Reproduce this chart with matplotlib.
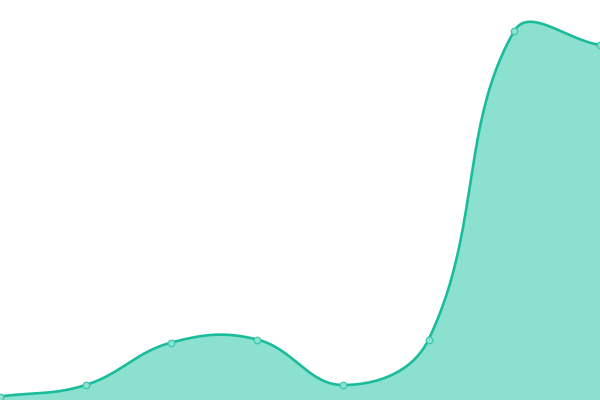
import numpy as np
import matplotlib
matplotlib.use("Agg")
import matplotlib.pyplot as plt

categories = ["A", "B", "C", "D", "E", "F", "G", "H"]
values = [3.5, 15, 57.5, 60.5, 15, 60.5, 369, 355]

LINE = "#1abc9c"
FILL = "#8be0cf"
TENSION = 0.4

fig = plt.figure(figsize=(6, 4), dpi=100)
ax = fig.add_axes([0, 0, 1, 1])
ax.set_xlim(0, len(categories) - 1)
ax.set_ylim(0, 400)
ax.axis("off")

xs = np.arange(len(categories), dtype=float)
pts = ax.transData.transform(np.column_stack([xs, values]))

# Chart.js style spline control points (computed in pixel space)
n = len(pts)
cp_prev = np.zeros_like(pts)
cp_next = np.zeros_like(pts)
for i in range(n):
    p = pts[i]
    pr = pts[i - 1] if i > 0 else p
    nx = pts[i + 1] if i < n - 1 else p
    d01 = np.hypot(*(p - pr))
    d12 = np.hypot(*(nx - p))
    s01 = d01 / (d01 + d12) if d01 + d12 else 0
    s12 = d12 / (d01 + d12) if d01 + d12 else 0
    fa = TENSION * s01
    fb = TENSION * s12
    cp_prev[i] = p - fa * (nx - pr)
    cp_next[i] = p + fb * (nx - pr)

curve = [pts[0]]
t = np.linspace(0, 1, 60)[1:, None]
for i in range(n - 1):
    p0, p1, p2, p3 = pts[i], cp_next[i], cp_prev[i + 1], pts[i + 1]
    seg = ((1 - t) ** 3) * p0 + 3 * ((1 - t) ** 2) * t * p1 + 3 * (1 - t) * t ** 2 * p2 + t ** 3 * p3
    curve.extend(seg)
curve = np.array(curve)
data_curve = ax.transData.inverted().transform(curve)

ax.fill_between(data_curve[:, 0], data_curve[:, 1], 0, color=FILL, linewidth=0, zorder=1)
ax.plot(data_curve[:, 0], data_curve[:, 1], color=LINE, linewidth=1.9, zorder=2,
        solid_capstyle="round", clip_on=False)
ax.scatter(xs, values, s=22, facecolor="#8ee2d2", edgecolor="#3cc9ab", linewidth=0.9,
           zorder=3, clip_on=False)

fig.savefig("out.png", dpi=100)
